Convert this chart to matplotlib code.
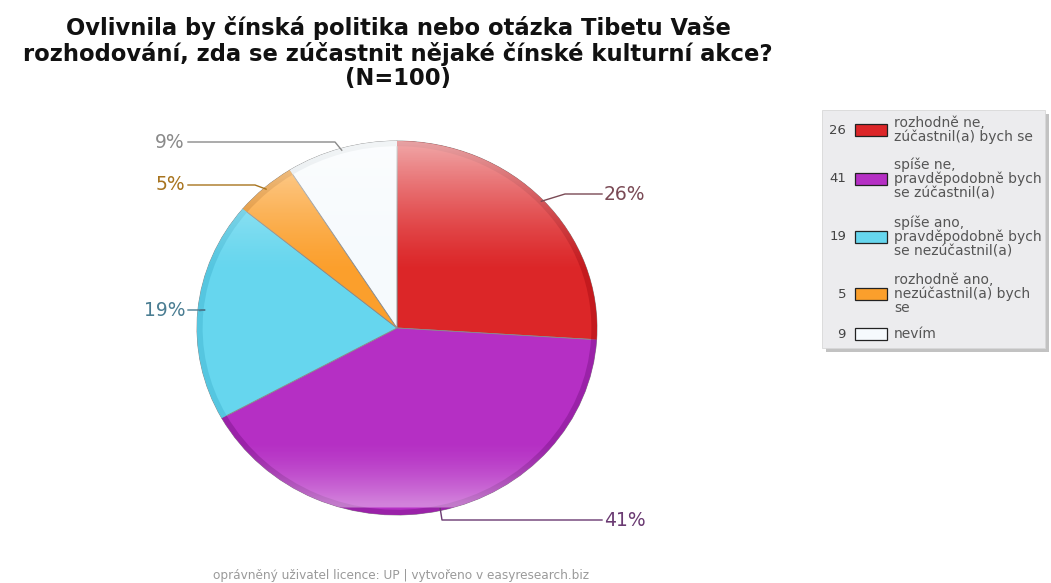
import numpy as np
import matplotlib.pyplot as plt
from matplotlib.patches import FancyBboxPatch, Rectangle

plt.rcParams['font.family'] = ['DejaVu Sans']

# data
counts = [26, 41, 19, 5, 9]
categories = [
    'rozhodně ne,\nzúčastnil(a) bych se',
    'spíše ne,\npravděpodobně bych\nse zúčastnil(a)',
    'spíše ano,\npravděpodobně bych\nse nezúčastnil(a)',
    'rozhodně ano,\nnezúčastnil(a) bych\nse',
    'nevím',
]
colors = ['#dc2628', '#b52fc4', '#66d6ee', '#fb9f2c', '#f6fafd']
rims = ['#c41a1e', '#9a22a8', '#55c6e0', '#e0861a', '#dfe6ea']
label_colors = ['#7a4a55', '#6a3a72', '#4a7d92', '#a8741e', '#8a8a8a']
title = ('Ovlivnila by čínská politika nebo otázka Tibetu Vaše\n'
         'rozhodování, zda se zúčastnit nějaké čínské kulturní akce?\n(N=100)')
footer = 'oprávněný uživatel licence: UP | vytvořeno v easyresearch.biz'

W, H = 1051, 583
fig = plt.figure(figsize=(W / 100, H / 100), dpi=100)

# pie area in pixels (centre and radii)
cx, cy, rx, ry = 397, 328, 200, 187
ax = fig.add_axes([(cx - rx) / W, (H - cy - ry) / H, 2 * rx / W, 2 * ry / H])

wedges, _ = ax.pie(counts, colors=colors, startangle=90, counterclock=False,
                   radius=1, wedgeprops=dict(edgecolor='#8a8a8a', linewidth=0.6))
# darker rim along the outer edge
ax.pie(counts, colors=rims, startangle=90, counterclock=False, radius=1,
       wedgeprops=dict(width=0.028, edgecolor='none'))
ax.set_aspect('auto')
ax.set_xlim(-1, 1)
ax.set_ylim(-1, 1)
ax.axis('off')

# glossy shading: light at the top, soft light band above the bottom rim
yy = np.linspace(1, -1, 400)[:, None]
alpha = np.clip((yy - 0.3) / 0.7, 0, 1) ** 1.3 * 0.6
alpha = alpha + np.clip((-yy - 0.6) / 0.34, 0, 1) ** 1.5 * 0.4 * (yy > -0.96)
shade = np.ones((400, 2, 4))
shade[:, :, 3] = np.repeat(alpha, 2, axis=1)
for w in wedges:
    im = ax.imshow(shade, extent=(-1, 1, -1, 1), aspect='auto', zorder=w.get_zorder() + 0.1)
    im.set_clip_path(w)

# percentage labels with leader lines (pixel positions -> pie data coords)
def px(x, y):
    return (x - cx) / rx, (cy - y) / ry

angles = []
start = 90.0
total = sum(counts)
for c in counts:
    sweep = 360.0 * c / total
    angles.append(np.deg2rad(start - sweep / 2))
    start -= sweep

leaders = [
    [(565, 194), (602, 194)],
    [(442, 520), (602, 520)],
    [(205, 310), (188, 310)],
    [(255, 185), (188, 185)],
    [(335, 142), (188, 142)],
]
text_pos = [(604, 195, 'left'), (604, 520, 'left'), (185, 310, 'right'),
            (185, 185, 'right'), (185, 142, 'right')]
for i, c in enumerate(counts):
    ax_x, ax_y = np.cos(angles[i]) * 0.99, np.sin(angles[i]) * 0.99
    pts = [(ax_x, ax_y)] + [px(*p) for p in leaders[i]]
    xs, ys = zip(*pts)
    ax.plot(xs, ys, color=label_colors[i], lw=1.0, clip_on=False, zorder=5)
    tx, ty, ha = text_pos[i]
    ax.text(*px(tx, ty), f'{c}%', ha=ha, va='center', fontsize=13.5,
            color=label_colors[i], clip_on=False)

# title
fig.text(398 / W, 1 - 53 / H, title, ha='center', va='center', fontsize=16.3,
         fontweight='bold', linespacing=1.1, color='#111111')

# legend box with shadow
lx0, ly0, lx1, ly1 = 822, 110, 1045, 348
sh = FancyBboxPatch(((lx0 + 4) / W, 1 - (ly1 + 4) / H), (lx1 - lx0) / W, (ly1 - ly0) / H,
                    boxstyle='square,pad=0', transform=fig.transFigure,
                    facecolor='#9a9a9a', edgecolor='none', alpha=0.6)
bx = FancyBboxPatch((lx0 / W, 1 - ly1 / H), (lx1 - lx0) / W, (ly1 - ly0) / H,
                    boxstyle='square,pad=0', transform=fig.transFigure,
                    facecolor='#ececee', edgecolor='#d8d8d8', lw=0.6)
fig.patches.extend([sh, bx])

row_y = [130, 179, 237, 294, 334]
for i, c in enumerate(counts):
    y = row_y[i]
    fig.text(846 / W, 1 - y / H, str(c), ha='right', va='center', fontsize=9.5,
             color='#444444')
    fig.patches.append(Rectangle((855 / W, 1 - (y + 6) / H), 32 / W, 12 / H,
                                 transform=fig.transFigure, facecolor=colors[i],
                                 edgecolor='#222222', lw=0.9))
    fig.text(894 / W, 1 - y / H, categories[i], ha='left', va='center',
             fontsize=10, color='#555555', linespacing=1.0)

fig.text(401 / W, 1 - 575 / H, footer, ha='center', va='center', fontsize=8.7,
         color='#9a9a9a')

fig.savefig('out.png', dpi=100)
